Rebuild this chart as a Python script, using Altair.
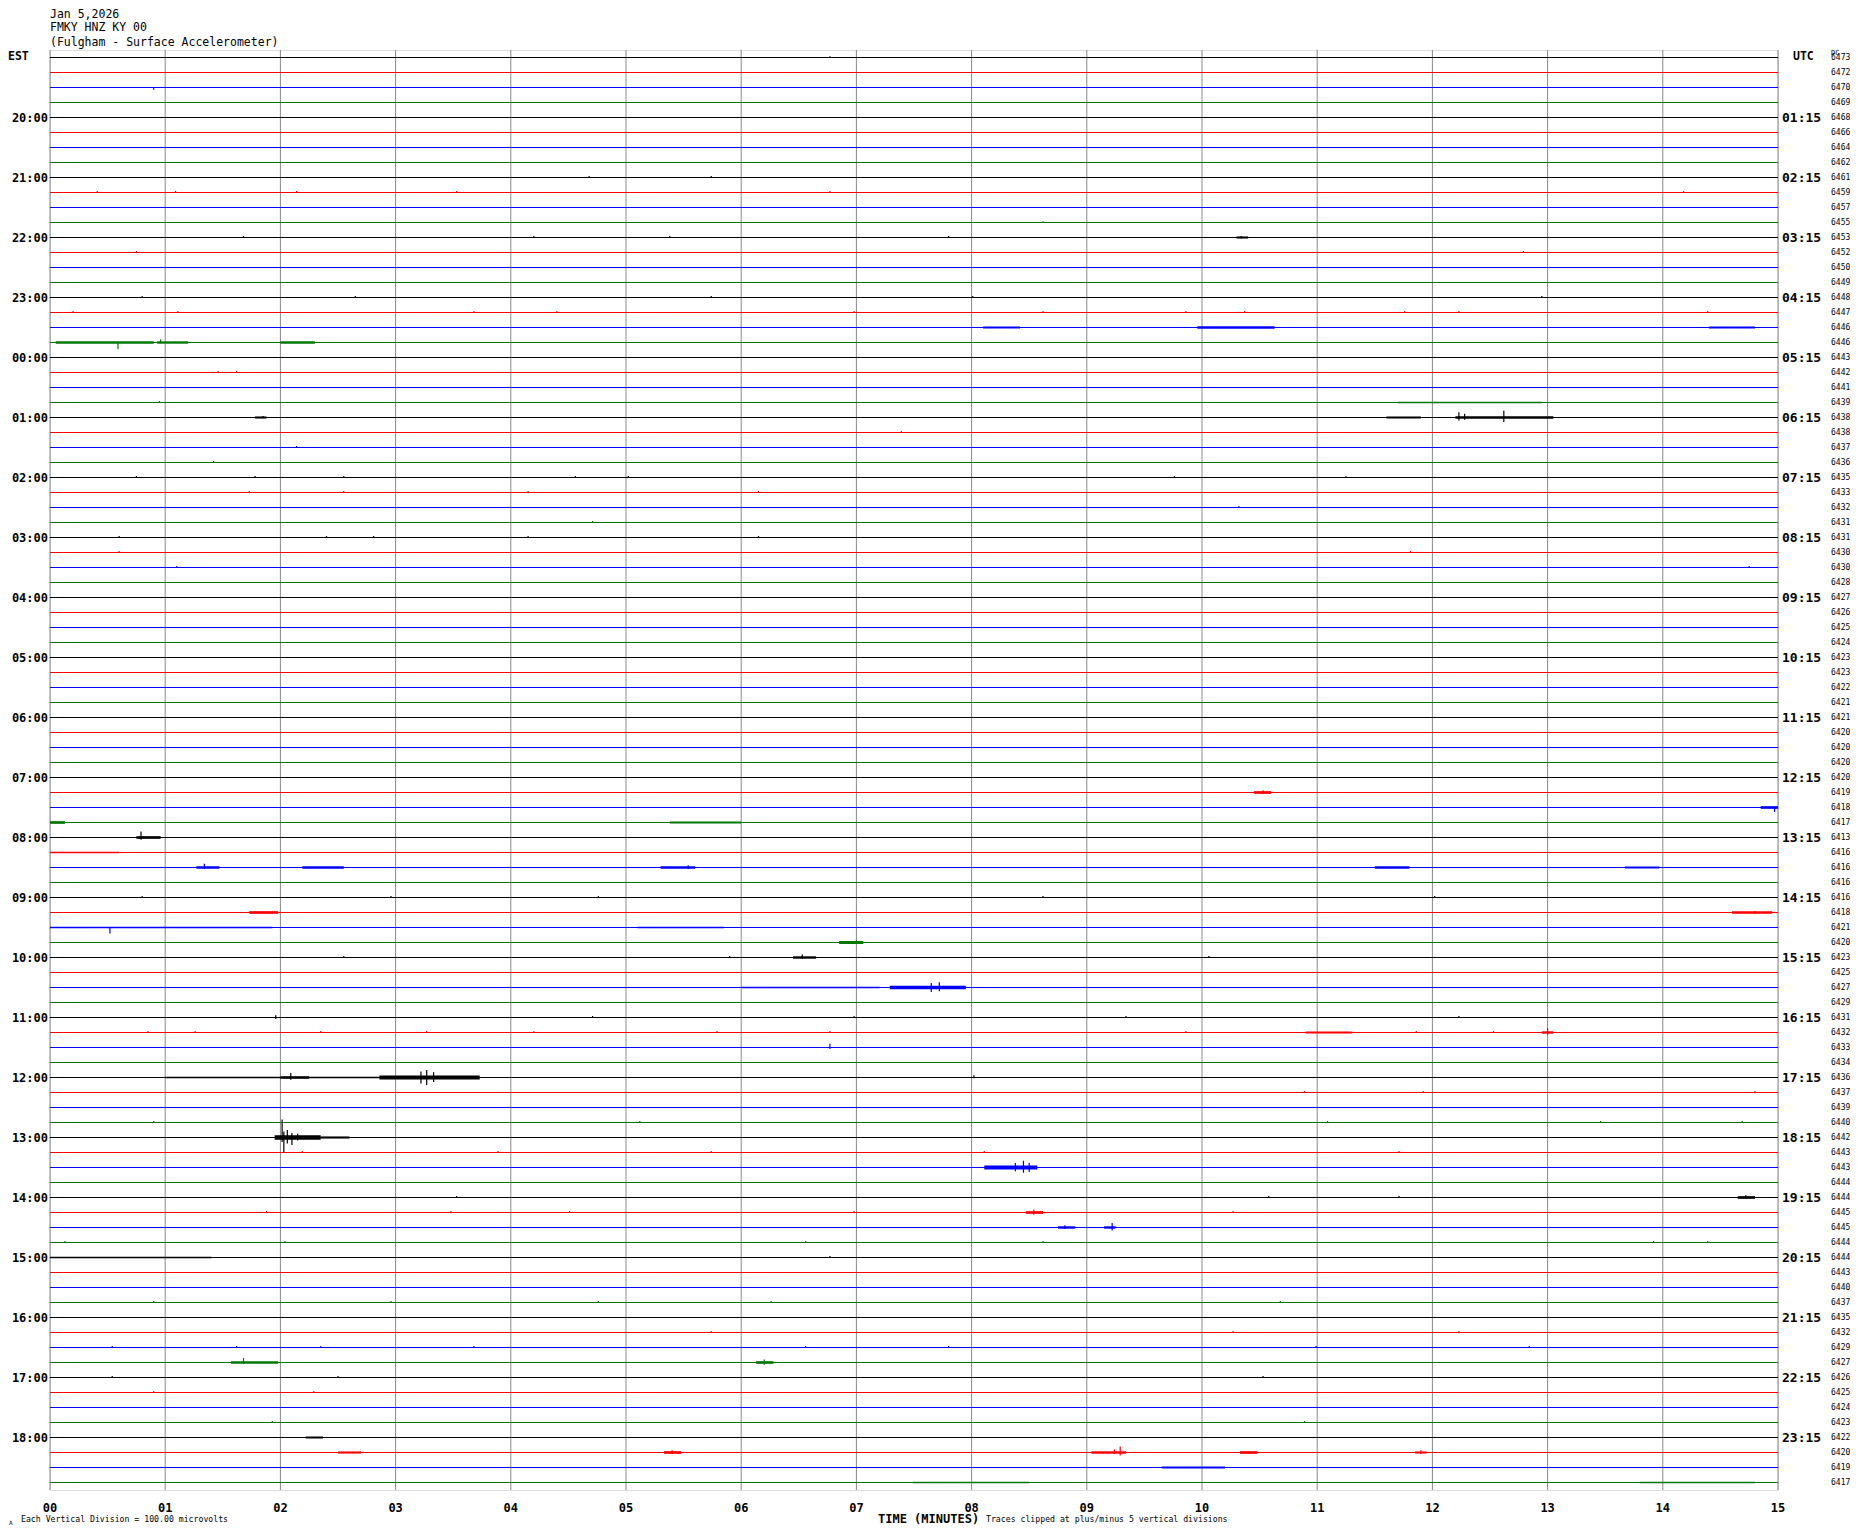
import altair as alt
import pandas as pd

# ---------------- data ----------------
N_ROWS = 96
trace_colors = ["#000000", "#ff0000", "#0000ff", "#007800"]

dc_values = [6473, 6472, 6470, 6469, 6468, 6466, 6464, 6462, 6461, 6459, 6457, 6455,
             6453, 6452, 6450, 6449, 6448, 6447, 6446, 6446, 6443, 6442, 6441, 6439,
             6438, 6438, 6437, 6436, 6435, 6433, 6432, 6431, 6431, 6430, 6430, 6428,
             6427, 6426, 6425, 6424, 6423, 6423, 6422, 6421, 6421, 6420, 6420, 6420,
             6420, 6419, 6418, 6417, 6413, 6416, 6416, 6416, 6416, 6418, 6421, 6420,
             6423, 6425, 6427, 6429, 6431, 6432, 6433, 6434, 6436, 6437, 6439, 6440,
             6442, 6443, 6443, 6444, 6444, 6445, 6445, 6444, 6444, 6443, 6440, 6437,
             6435, 6432, 6429, 6427, 6426, 6425, 6424, 6423, 6422, 6420, 6419, 6417]

hour_rows = [4, 8, 12, 16, 20, 24, 28, 32, 36, 40, 44, 48, 52, 56, 60, 64, 68, 72, 76, 80, 84, 88, 92]
est_labels = ["20:00", "21:00", "22:00", "23:00", "00:00", "01:00", "02:00", "03:00", "04:00",
              "05:00", "06:00", "07:00", "08:00", "09:00", "10:00", "11:00", "12:00", "13:00",
              "14:00", "15:00", "16:00", "17:00", "18:00"]
utc_labels = ["01:15", "02:15", "03:15", "04:15", "05:15", "06:15", "07:15", "08:15", "09:15",
              "10:15", "11:15", "12:15", "13:15", "14:15", "15:15", "16:15", "17:15", "18:15",
              "19:15", "20:15", "21:15", "22:15", "23:15"]
minute_values = list(range(16))
minute_labels = ["00", "01", "02", "03", "04", "05", "06", "07", "08", "09",
                 "10", "11", "12", "13", "14", "15"]

# spikes: row, minute, amplitude up, amplitude down (in vertical divisions / row spacing)
spike_row = [0, 2, 11, 12, 19, 19, 24, 24, 24, 24, 49, 50, 52, 54, 54, 57, 58, 59, 60, 62, 62,
             64, 65, 66, 68, 68, 68, 68, 68, 72, 72, 72, 72, 72, 72, 74, 74, 74, 76, 77, 78, 78,
             87, 87, 93, 93, 93, 93]
spike_min = [6.77, 0.90, 8.62, 10.34, 0.59, 0.96, 12.23, 12.28, 12.62, 1.85, 10.53, 14.97, 0.79,
             1.34, 5.54, 14.80, 0.52, 7.00, 6.53, 7.65, 7.72, 1.96, 13.00, 6.77, 2.09, 3.22, 3.27,
             3.33, 8.02, 2.015, 2.03, 2.06, 2.10, 2.15, 2.20, 8.38, 8.45, 8.50, 14.72, 8.54, 8.81,
             9.22, 1.68, 6.20, 9.29, 9.24, 11.90, 5.40]
spike_up = [0.08, 0.0, 0.08, 0.1, 0.05, 0.2, 0.35, 0.25, 0.45, 0.1, 0.15, 0.05, 0.4, 0.25, 0.15,
            0.1, 0.0, 0.15, 0.2, 0.3, 0.35, 0.15, 0.3, 0.25, 0.3, 0.4, 0.5, 0.35, 0.15, 1.2, 0.4,
            0.5, 0.3, 0.25, 0.1, 0.3, 0.45, 0.3, 0.15, 0.2, 0.15, 0.3, 0.3, 0.2, 0.4, 0.2, 0.15,
            0.15]
spike_down = [0.0, 0.15, 0.0, 0.05, 0.45, 0.05, 0.2, 0.15, 0.3, 0.05, 0.1, 0.3, 0.15, 0.1, 0.1,
              0.1, 0.4, 0.1, 0.1, 0.3, 0.25, 0.1, 0.15, 0.1, 0.15, 0.4, 0.5, 0.3, 0.05, 0.3, 1.0,
              0.4, 0.5, 0.2, 0.1, 0.25, 0.35, 0.3, 0.1, 0.15, 0.1, 0.2, 0.1, 0.15, 0.2, 0.1, 0.1,
              0.1]

# noise bursts: row, start minute, end minute, half amplitude
burst_row = [12, 18, 18, 18, 19, 19, 19, 23, 24, 24, 24, 49, 50, 51, 51, 52, 53, 54, 54, 54, 54,
             54, 57, 57, 58, 58, 59, 60, 62, 62, 65, 65, 68, 68, 68, 72, 72, 74, 76, 77, 78, 78,
             80, 87, 87, 92, 93, 93, 93, 93, 93, 94, 95, 95]
burst_start = [10.30, 8.10, 9.96, 14.40, 0.05, 0.93, 2.00, 11.70, 11.60, 12.20, 1.78, 10.45,
               14.85, 0.00, 5.38, 0.75, 0.00, 1.27, 2.19, 5.30, 11.50, 13.67, 1.73, 14.60, 0.00,
               5.10, 6.85, 6.45, 7.29, 6.00, 10.90, 12.95, 1.00, 2.86, 2.00, 1.95, 2.35, 8.11,
               14.65, 8.47, 8.75, 9.15, 0.00, 1.57, 6.13, 2.22, 2.50, 5.33, 9.04, 10.33, 11.85,
               9.65, 7.49, 13.80]
burst_end = [10.40, 8.42, 10.63, 14.80, 0.90, 1.20, 2.30, 12.95, 11.90, 13.05, 1.88, 10.60,
             15.00, 0.13, 6.00, 0.96, 0.60, 1.47, 2.55, 5.60, 11.80, 13.97, 1.98, 14.95, 1.93,
             5.85, 7.06, 6.65, 7.95, 7.20, 11.30, 13.05, 2.90, 3.73, 2.25, 2.35, 2.60, 8.57,
             14.80, 8.62, 8.90, 9.25, 1.40, 1.98, 6.28, 2.37, 2.70, 5.48, 9.34, 10.48, 11.95,
             10.20, 8.50, 14.80]
burst_amp = [0.07, 0.07, 0.08, 0.07, 0.08, 0.08, 0.08, 0.045, 0.07, 0.09, 0.07, 0.09, 0.09, 0.09,
             0.07, 0.09, 0.05, 0.09, 0.08, 0.08, 0.08, 0.07, 0.09, 0.08, 0.045, 0.045, 0.10, 0.08,
             0.11, 0.045, 0.07, 0.08, 0.045, 0.13, 0.09, 0.15, 0.07, 0.13, 0.09, 0.09, 0.08, 0.08,
             0.045, 0.09, 0.09, 0.07, 0.07, 0.09, 0.09, 0.09, 0.07, 0.06, 0.045, 0.045]

# small isolated blips: row, minute
dot_row = [8, 8, 9, 9, 9, 9, 9, 9, 12, 12, 12, 12, 13, 13, 16, 16, 16, 16, 16, 17, 17, 17, 17,
           17, 17, 17, 17, 17, 17, 17, 21, 21, 26, 27, 28, 28, 28, 28, 28, 28, 28, 29, 29, 29,
           29, 30, 31, 32, 32, 32, 32, 32, 33, 33, 34, 34, 56, 56, 56, 56, 56, 60, 60, 60, 64,
           64, 64, 64, 65, 65, 65, 65, 65, 65, 65, 65, 65, 65, 69, 69, 69, 71, 71, 71, 71, 71,
           73, 73, 73, 73, 73, 76, 76, 76, 77, 77, 77, 77, 77, 79, 79, 79, 79, 79, 79, 80, 83,
           83, 83, 83, 83, 85, 85, 85, 86, 86, 86, 86, 86, 86, 86, 86, 88, 88, 88, 89, 89, 91,
           91, 25, 23]
dot_min = [4.68, 5.74, 0.41, 1.09, 2.14, 3.53, 6.77, 14.18, 1.68, 4.20, 5.38, 7.80, 0.75, 12.79,
           0.80, 2.65, 5.74, 8.01, 12.95, 0.20, 1.11, 3.68, 4.40, 6.98, 8.62, 9.86, 10.37, 11.76,
           12.23, 14.39, 1.46, 1.62, 2.14, 1.42, 0.75, 1.78, 2.55, 4.56, 5.02, 9.76, 11.25, 1.73,
           2.55, 4.15, 6.15, 10.32, 4.71, 0.60, 2.40, 2.81, 4.15, 6.15, 0.60, 11.81, 1.10, 14.75,
           0.80, 2.96, 4.76, 8.62, 12.02, 2.55, 5.90, 10.06, 4.71, 6.98, 9.34, 12.23, 0.85, 1.26,
           2.35, 3.27, 4.20, 5.79, 6.77, 9.86, 11.86, 12.53, 10.89, 11.92, 14.80, 0.90, 5.12,
           11.09, 13.46, 14.69, 2.19, 3.89, 5.74, 8.11, 11.71, 3.53, 10.58, 11.71, 1.88, 3.48,
           4.51, 6.98, 10.27, 0.13, 2.04, 6.56, 8.62, 13.92, 14.39, 6.77, 0.90, 2.96, 4.76, 6.26,
           10.68, 5.74, 10.27, 12.23, 0.54, 1.62, 2.35, 3.68, 6.56, 7.80, 10.99, 12.84, 0.54,
           2.50, 10.53, 0.90, 2.29, 1.93, 10.89, 7.39, 0.95]

# ---------------- frames ----------------
rows_df = pd.DataFrame({"row": list(range(N_ROWS)), "dc": dc_values})
rows_df["color"] = [trace_colors[r % 4] for r in rows_df["row"]]
rows_df["x0"] = 0.0
rows_df["x1"] = 15.0

spikes = pd.DataFrame({"row": spike_row, "m": spike_min, "up": spike_up, "down": spike_down})
dots = pd.DataFrame({"row": dot_row, "m": dot_min})
dots["up"] = 0.1
dots["down"] = 0.0
spikes = pd.concat([spikes, dots], ignore_index=True)
spikes["y1"] = spikes["row"] - spikes["up"]
spikes["y2"] = spikes["row"] + spikes["down"]
spikes["color"] = [trace_colors[int(r) % 4] for r in spikes["row"]]

bursts = pd.DataFrame({"row": burst_row, "s": burst_start, "e": burst_end, "a": burst_amp})
bursts["y1"] = bursts["row"] - bursts["a"]
bursts["y2"] = bursts["row"] + bursts["a"]
bursts["color"] = [trace_colors[int(r) % 4] for r in bursts["row"]]

hours_df = pd.DataFrame({"row": hour_rows, "est": est_labels, "utc": utc_labels})
minutes_df = pd.DataFrame({"m": minute_values, "lab": minute_labels})

W, H = 1728, 1440
xscale = alt.Scale(domain=[0, 15], nice=False, zero=False)
yscale = alt.Scale(domain=[-0.5, 95.5], reverse=True, nice=False, zero=False)
minor_ticks = [round(i / 6.0, 6) for i in range(91)]
MONO = "DejaVu Sans Mono"

grid = alt.Chart(minutes_df).mark_rule(color="#888888", strokeWidth=1).encode(
    x=alt.X("m:Q", scale=xscale,
            axis=alt.Axis(values=minor_ticks, labels=False, tickSize=7, tickColor="black",
                          domainColor="black", tickWidth=1, domainWidth=1, grid=False, title=None)),
    y=alt.value(0), y2=alt.value(H),
)

traces = alt.Chart(rows_df).mark_rule(strokeWidth=1).encode(
    x=alt.X("x0:Q", scale=xscale, axis=None), x2="x1:Q",
    y=alt.Y("row:Q", scale=yscale, axis=None),
    color=alt.Color("color:N", scale=None),
)

burst_layer = alt.Chart(bursts).mark_rect().encode(
    x=alt.X("s:Q", scale=xscale, axis=None), x2="e:Q",
    y=alt.Y("y1:Q", scale=yscale, axis=None), y2="y2:Q",
    color=alt.Color("color:N", scale=None),
)

spike_layer = alt.Chart(spikes).mark_rule(strokeWidth=1.2).encode(
    x=alt.X("m:Q", scale=xscale, axis=None),
    y=alt.Y("y1:Q", scale=yscale, axis=None), y2="y2:Q",
    color=alt.Color("color:N", scale=None),
)

est_text = alt.Chart(hours_df).mark_text(align="right", baseline="middle", font=MONO,
                                         fontWeight="bold", fontSize=12, color="black").encode(
    x=alt.value(-2), y=alt.Y("row:Q", scale=yscale, axis=None), text="est:N")

utc_text = alt.Chart(hours_df).mark_text(align="left", baseline="middle", font=MONO,
                                         fontWeight="bold", fontSize=13, color="black").encode(
    x=alt.value(W + 4), y=alt.Y("row:Q", scale=yscale, axis=None), text="utc:N")

dc_text = alt.Chart(rows_df).mark_text(align="left", baseline="middle", font=MONO,
                                       fontSize=8, color="black").encode(
    x=alt.value(W + 53), y=alt.Y("row:Q", scale=yscale, axis=None), text="dc:N")

minute_text = alt.Chart(minutes_df).mark_text(align="center", baseline="middle", font=MONO,
                                              fontWeight="bold", fontSize=12, color="black").encode(
    x=alt.X("m:Q", scale=xscale, axis=None), y=alt.value(H + 18), text="lab:N")


def label(txt, x, y, size=11, weight="normal", align="left", baseline="middle"):
    return alt.Chart(pd.DataFrame({"t": [txt]})).mark_text(
        align=align, baseline=baseline, font=MONO, fontSize=size, fontWeight=weight,
        color="black").encode(x=alt.value(x), y=alt.value(y), text="t:N")


texts = [
    label("Jan 5,2026", 0, -32.5, 11.5, baseline="alphabetic"),
    label("FMKY HNZ KY 00", 0, -19, 11.5, baseline="alphabetic"),
    label("(Fulgham - Surface Accelerometer)", 0, -4.5, 11.5, baseline="alphabetic"),
    label("EST", -42, 7, 11.5, "bold"),
    label("UTC", W + 15, 7, 11.5, "bold"),
    label("DC", W + 53, 3, 7),
    label("TIME (MINUTES)", 828, H + 29, 12, "bold"),
    label("Traces clipped at plus/minus 5 vertical divisions", 936, H + 30, 8.2),
    label("Each Vertical Division =  100.00 microvolts", -29, H + 30, 8.2),
    label("A", -41, H + 33, 6),
]

chart = alt.layer(grid, traces, burst_layer, spike_layer, est_text, utc_text, dc_text,
                  minute_text, *texts).properties(
    width=W, height=H,
    autosize=alt.AutoSizeParams(type="none"),
    padding={"left": 42, "top": 42, "right": 72, "bottom": 44},
).configure_view(stroke="black", strokeWidth=1).configure(background="white")

chart.save("out.html", embed_options={"renderer": "svg", "actions": False})
